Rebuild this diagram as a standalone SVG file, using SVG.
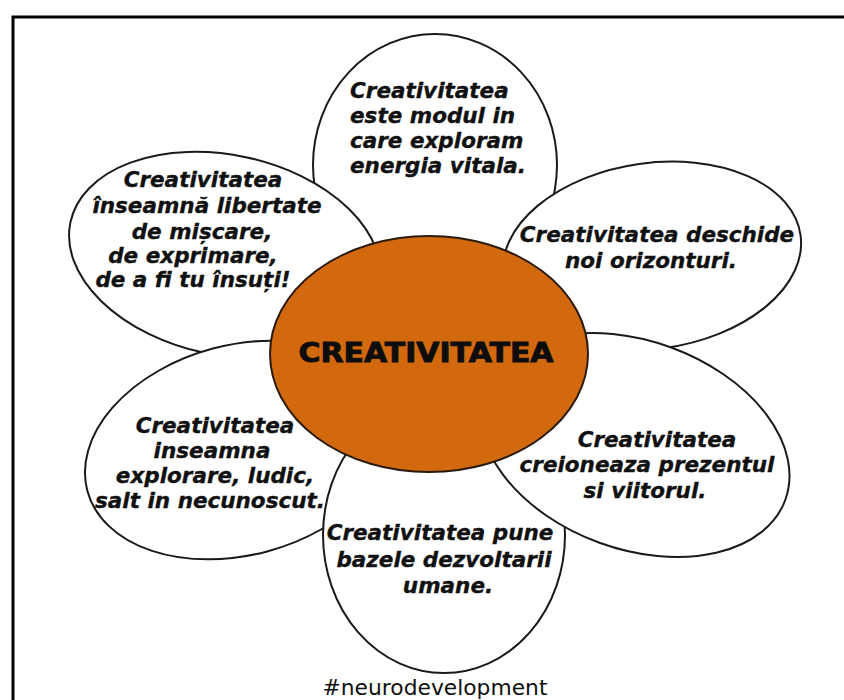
<svg xmlns="http://www.w3.org/2000/svg" width="844" height="700" viewBox="0 0 844 700">
<style>
.petal{fill:#fff;stroke:#1a1a1a;stroke-width:2}
.t{font-family:"DejaVu Sans",sans-serif;font-weight:bold;font-style:italic;font-size:21.5px;fill:#111;stroke:#111;stroke-width:0.35;text-anchor:middle}
.tl{text-anchor:start}
.hub{fill:#d3690e;stroke:#2a1a0a;stroke-width:2}
.main{font-family:"DejaVu Sans",sans-serif;font-weight:bold;font-size:27px;fill:#0d0d0d;stroke:#0d0d0d;stroke-width:0.9;text-anchor:middle}
.tag{font-family:"DejaVu Sans",sans-serif;font-size:21.8px;fill:#111;text-anchor:middle}
</style>
<rect width="844" height="700" fill="#fff"/>
<path d="M13 700 L13 17 L844 17" fill="none" stroke="#000" stroke-width="3"/>
<g id="connectors"></g>
<g id="petal-top">
<ellipse class="petal" cx="435" cy="165" rx="122" ry="131"/>
<text class="t tl" x="350" y="98">Creativitatea</text>
<text class="t tl" x="350" y="123">este modul in</text>
<text class="t tl" x="350" y="148">care exploram</text>
<text class="t tl" x="350" y="173">energia vitala.</text>
</g>
<g id="petal-upper-left">
<ellipse class="petal" cx="225" cy="255" rx="158" ry="100" transform="rotate(12 225 255)"/>
<text class="t" x="203" y="187">Creativitatea</text>
<text class="t" x="207" y="213">înseamnă libertate</text>
<text class="t" x="202" y="239">de mișcare,</text>
<text class="t" x="193" y="263">de exprimare,</text>
<text class="t" x="193" y="287">de a fi tu însuți!</text>
</g>
<g id="petal-upper-right">
<ellipse class="petal" cx="652" cy="256" rx="150" ry="93" transform="rotate(-8 652 256)"/>
<text class="t" x="657" y="242">Creativitatea deschide</text>
<text class="t" x="651" y="268">noi orizonturi.</text>
</g>
<g id="petal-lower-left">
<ellipse class="petal" cx="240" cy="450" rx="158" ry="105" transform="rotate(-15 240 450)"/>
<text class="t" x="215" y="433">Creativitatea</text>
<text class="t" x="212" y="458">inseamna</text>
<text class="t" x="215" y="483">explorare, ludic,</text>
<text class="t" x="210" y="508">salt in necunoscut.</text>
</g>
<g id="petal-bottom">
<ellipse class="petal" cx="444" cy="535" rx="121" ry="138"/>
<text class="t" x="440" y="540">Creativitatea pune</text>
<text class="t" x="444" y="567">bazele dezvoltarii</text>
<text class="t" x="448" y="593">umane.</text>
</g>
<g id="petal-lower-right">
<ellipse class="petal" cx="635" cy="445" rx="160" ry="104" transform="rotate(20 635 445)"/>
<text class="t" x="657" y="447">Creativitatea</text>
<text class="t" x="647" y="472">creioneaza prezentul</text>
<text class="t" x="645" y="498">si viitorul.</text>
</g>
<g id="center">
<ellipse class="hub" cx="429" cy="354" rx="159" ry="118"/>
<text class="main" x="426" y="362" textLength="255" lengthAdjust="spacingAndGlyphs">CREATIVITATEA</text>
</g>
<g id="footer">
<text class="tag" x="435" y="695">#neurodevelopment</text>
</g>
</svg>
